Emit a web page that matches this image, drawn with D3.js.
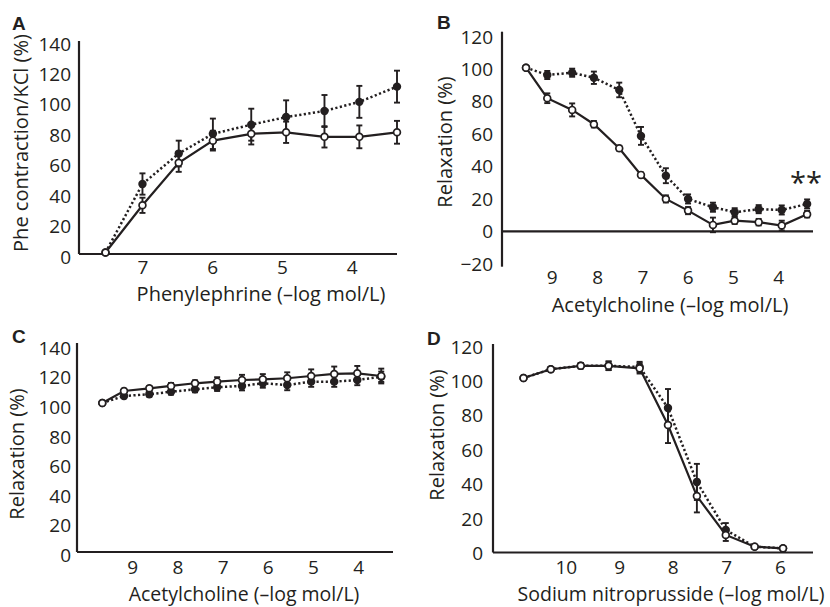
<!DOCTYPE html>
<html><head><meta charset="utf-8">
<script src="https://cdn.jsdelivr.net/npm/d3@7"></script>
<style>
body{margin:0;background:#fff}
text{font-family:'Open Sans',sans-serif;fill:#231f20}
</style>
</head><body>
<svg id="c" width="830" height="607"></svg>
<script>
// ---------- Panel A: Phenylephrine contraction ----------
const aX = [7.53, 7.0, 6.48, 5.99, 5.44, 4.94, 4.39, 3.89, 3.35];
const aOpen = [1, 32, 60, 74.5, 79, 80, 77, 77, 80];
const aOpenErr = [0, 5, 6, 6.5, 7, 7, 7, 7.5, 7.5];
const aFilled = [1, 46, 66, 79, 85, 90, 94, 100, 110];
const aFilledErr = [0, 7, 8.5, 10, 10.5, 11, 10.5, 10.5, 10.5];
const aTicksX = [7, 6, 5, 4];
const aTicksY = [0, 20, 40, 60, 80, 100, 120, 140];

// ---------- Panel B: Acetylcholine relaxation ----------
const bX = [9.57, 9.10, 8.55, 8.07, 7.51, 7.03, 6.48, 5.99, 5.44, 4.96, 4.43, 3.92, 3.36];
const bOpen = [100.8, 82, 74.8, 66, 51.2, 34.8, 20, 12.8, 4, 6.6, 5.7, 3.6, 10.6];
const bOpenErr = [0, 3, 4, 2, 1.5, 1.5, 2.2, 2.2, 4.5, 2, 2, 3, 2];
const bFilled = [100.8, 96.3, 97.7, 94.6, 87.1, 58.8, 34.3, 20, 14.9, 11.8, 13.7, 13.2, 16.9];
const bFilledErr = [0, 2.5, 2.5, 3.8, 4.5, 5.5, 4.6, 2.8, 2.8, 2.5, 2.5, 2.8, 2.8];
const bTicksX = [9, 8, 7, 6, 5, 4];
const bTicksY = [-20, 0, 20, 40, 60, 80, 100, 120];
const bNote = "**";

// ---------- Panel C: Acetylcholine relaxation ----------
const cX = [9.66, 9.18, 8.62, 8.14, 7.61, 7.12, 6.57, 6.11, 5.57, 5.04, 4.53, 4.02, 3.49];
const cOpen = [100.7, 108.8, 110.6, 112.2, 114, 115.1, 116.2, 116.7, 117.4, 118.9, 120.3, 120.7, 118.9];
const cOpenErr = [0, 1.5, 1.5, 2, 2, 3, 3.5, 3.5, 4, 4.5, 5, 5, 5];
const cFilled = [100.7, 105.4, 106.6, 108.3, 109.9, 111.3, 112.2, 114, 112.8, 115.1, 115.1, 116.2, 118.4];
const cFilledErr = [0, 1.5, 1.5, 2, 2, 2.5, 3, 3, 3.5, 3.5, 3.5, 3.5, 3.5];
const cTicksX = [9, 8, 7, 6, 5, 4];
const cTicksY = [0, 20, 40, 60, 80, 100, 120, 140];

// ---------- Panel D: Sodium nitroprusside relaxation ----------
const dX = [10.79, 10.28, 9.72, 9.20, 8.62, 8.09, 7.55, 7.01, 6.47, 5.94];
const dOpen = [101.4, 106.5, 108.5, 108.5, 107, 74.1, 32.8, 10.2, 3.4, 2.4];
const dOpenErr = [0, 1, 1.5, 2.5, 3, 10.5, 9.5, 3.5, 1, 1];
const dFilled = [101.4, 106.5, 108.5, 108.5, 107.8, 84, 41, 13.1, 3.4, 2.4];
const dFilledErr = [0, 1, 1.5, 2.5, 3, 11, 10.5, 4, 1, 1];
const dTicksX = [10, 9, 8, 7, 6];
const dTicksY = [0, 20, 40, 60, 80, 100, 120];

const INK = '#231f20';
const svg = d3.select('#c');
const fmt = v => v < 0 ? '\u2212' + Math.abs(v) : String(v);

function panel(o) {
  const g = svg.append('g');
  const x = d3.scaleLinear().domain(o.xd).range([o.left, o.right]);
  const y = d3.scaleLinear().domain(o.yd).range(o.yr);

  // axis lines
  g.append('line').attr('x1', o.left).attr('x2', o.left)
    .attr('y1', o.axTop).attr('y2', o.axBot)
    .attr('stroke', INK).attr('stroke-width', 2.2);
  g.append('line').attr('x1', o.left).attr('x2', o.right)
    .attr('y1', y(0)).attr('y2', y(0))
    .attr('stroke', INK).attr('stroke-width', 2.2);

  // y tick labels
  const ya = g.append('g').attr('transform', `translate(${o.left},0)`)
    .call(d3.axisLeft(y).tickValues(o.yt).tickSize(0).tickPadding(o.yPad).tickFormat(fmt));
  ya.select('.domain').remove();
  ya.selectAll('text').attr('dy', o.yDy + 'px').attr('font-size', 19)
    .attr('font-family', "'Open Sans',sans-serif").attr('fill', INK);

  // x tick labels
  const xa = g.append('g').attr('transform', `translate(0,${o.xLabY})`)
    .call(d3.axisBottom(x).tickValues(o.xt).tickSize(0).tickPadding(0).tickFormat(fmt));
  xa.select('.domain').remove();
  xa.selectAll('text').attr('y', 0).attr('dy', 0).attr('font-size', 19)
    .attr('font-family', "'Open Sans',sans-serif").attr('fill', INK);

  // titles
  g.append('text').attr('x', o.xtX).attr('y', o.xtY).attr('text-anchor', 'middle')
    .attr('font-size', o.xtSize || 20).text(o.xTitle);
  g.append('text').attr('transform', `translate(${o.ytX},${o.ytY}) rotate(-90)`)
    .attr('text-anchor', 'middle').attr('font-size', 20).text(o.yTitle);
  g.append('text').attr('x', o.lx).attr('y', o.ly)
    .style('font-family', "'Liberation Sans',Arial,sans-serif")
    .attr('font-weight', 'bold').attr('font-size', 19).text(o.letter);

  const fd = o.xs.map((v, i) => ({x: v, y: o.f[i], e: o.fe[i]}));
  const od = o.xs.map((v, i) => ({x: v, y: o.o[i], e: o.oe[i]}));
  const line = d3.line().x(d => x(d.x)).y(d => y(d.y));

  g.append('path').attr('d', line(fd)).attr('fill', 'none')
    .attr('stroke', INK).attr('stroke-width', 2.5).attr('stroke-dasharray', '2.2,2.4');
  g.append('path').attr('d', line(od)).attr('fill', 'none')
    .attr('stroke', INK).attr('stroke-width', 2.2);

  function bars(data) {
    const eb = g.append('g').attr('stroke', INK).attr('stroke-width', 1.9);
    data.filter(d => d.e > 0).forEach(d => {
      const cx = x(d.x), y1 = y(d.y + d.e), y2 = y(d.y - d.e);
      eb.append('line').attr('x1', cx).attr('x2', cx).attr('y1', y1).attr('y2', y2);
      eb.append('line').attr('x1', cx - 3).attr('x2', cx + 3).attr('y1', y1).attr('y2', y1);
      eb.append('line').attr('x1', cx - 3).attr('x2', cx + 3).attr('y1', y2).attr('y2', y2);
    });
  }
  bars(fd); bars(od);

  g.append('g').selectAll('circle').data(fd).join('circle')
    .attr('cx', d => x(d.x)).attr('cy', d => y(d.y)).attr('r', 4.2).attr('fill', INK);
  g.append('g').selectAll('circle').data(od).join('circle')
    .attr('cx', d => x(d.x)).attr('cy', d => y(d.y)).attr('r', 3.4)
    .attr('fill', '#fff').attr('stroke', INK).attr('stroke-width', 1.7);
  return {g, x, y};
}

panel({letter: 'A', lx: 12, ly: 30,
  left: 79, right: 397, xd: [7.91, 3.35], yd: [0, 140], yr: [254, 41], axTop: 41, axBot: 254,
  yt: aTicksY, yPad: 8, yDy: 9, xt: aTicksX, xLabY: 274,
  xTitle: 'Phenylephrine (\u2013log mol/L)', xtX: 261, xtY: 301,
  yTitle: 'Phe contraction/KCl (%)', ytX: 28, ytY: 143,
  xs: aX, o: aOpen, oe: aOpenErr, f: aFilled, fe: aFilledErr});

const B = panel({letter: 'B', lx: 437, ly: 29,
  left: 502, right: 813, xd: [10.10, 3.23], yd: [-20, 120], yr: [263.9, 36.5], axTop: 31.7, axBot: 266.7,
  yt: bTicksY, yPad: 9, yDy: 6.5, xt: bTicksX, xLabY: 284,
  xTitle: 'Acetylcholine (\u2013log mol/L)', xtX: 670, xtY: 312,
  yTitle: 'Relaxation (%)', ytX: 452, ytY: 142,
  xs: bX, o: bOpen, oe: bOpenErr, f: bFilled, fe: bFilledErr});
B.g.append('text').attr('x', 806).attr('y', 193).attr('text-anchor', 'middle')
  .attr('font-size', 29).text(bNote);

panel({letter: 'C', lx: 12, ly: 343,
  left: 77, right: 393, xd: [10.22, 3.23], yd: [0, 140], yr: [552, 344.8], axTop: 343, axBot: 552,
  yt: cTicksY, yPad: 6, yDy: 9.5, xt: cTicksX, xLabY: 574,
  xTitle: 'Acetylcholine (\u2013log mol/L)', xtX: 244, xtY: 601, xtSize: 19.5,
  yTitle: 'Relaxation (%)', ytX: 24, ytY: 454,
  xs: cX, o: cOpen, oe: cOpenErr, f: cFilled, fe: cFilledErr});

panel({letter: 'D', lx: 427, ly: 345,
  left: 493, right: 813, xd: [11.36, 5.38], yd: [0, 120], yr: [552.5, 346], axTop: 344, axBot: 552.5,
  yt: dTicksY, yPad: 10, yDy: 7, xt: dTicksX, xLabY: 574,
  xTitle: 'Sodium nitroprusside (\u2013log mol/L)', xtX: 671, xtY: 601, xtSize: 19.5,
  yTitle: 'Relaxation (%)', ytX: 444, ytY: 435,
  xs: dX, o: dOpen, oe: dOpenErr, f: dFilled, fe: dFilledErr});
</script>
</body></html>
